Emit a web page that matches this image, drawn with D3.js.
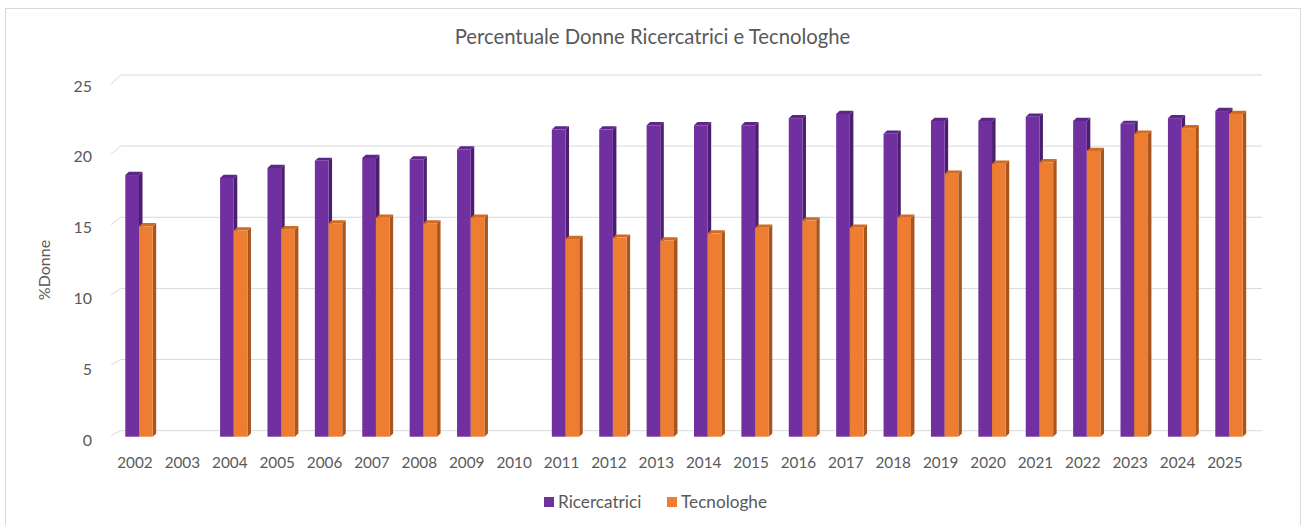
<!DOCTYPE html>
<html>
<head>
<meta charset="utf-8">
<script src="https://cdn.jsdelivr.net/npm/d3@7"></script>
<style>
  html, body { margin: 0; padding: 0; background: #ffffff; }
  svg { display: block; }
  text { font-family: Lato, "Open Sans", sans-serif; fill: #595959; }
</style>
</head>
<body>
<svg id="chart" width="1303" height="525"></svg>
<script>
const years = ["2002","2003","2004","2005","2006","2007","2008","2009","2010","2011","2012","2013","2014","2015","2016","2017","2018","2019","2020","2021","2022","2023","2024","2025"];
const ricercatrici = [18.4, null, 18.2, 18.9, 19.4, 19.6, 19.5, 20.2, null, 21.6, 21.6, 21.9, 21.9, 21.9, 22.4, 22.7, 21.3, 22.2, 22.2, 22.5, 22.2, 22.0, 22.4, 22.9];
const tecnologhe = [14.8, null, 14.5, 14.6, 15.0, 15.4, 15.0, 15.4, null, 13.9, 14.0, 13.8, 14.3, 14.7, 15.2, 14.7, 15.4, 18.5, 19.2, 19.3, 20.1, 21.3, 21.7, 22.7];
const yTicks = [0, 5, 10, 15, 20, 25];
const seriesNames = ["Ricercatrici", "Tecnologhe"];
const colors = { front: ["#7030A0", "#ED7D31"], side: ["#4B1E6E", "#A8561E"], top: ["#5C2788", "#D06A27"] };

const svg = d3.select("#chart");

// chart border
svg.append("rect").attr("x", 5.5).attr("y", 8.5).attr("width", 1295).attr("height", 530)
  .attr("fill", "#fff").attr("stroke", "#d9d9d9");

// scales
const x = d3.scaleBand().domain(years).range([111.3, 1248.7]).paddingInner(0).paddingOuter(0);
const yBack = d3.scaleLinear().domain([0, 25]).range([430.7, 75]);
const yFront = d3.scaleLinear().domain([0, 25]).range([435.5, 84]);
const yLabel = d3.scaleLinear().domain([0, 25]).range([440, 86]);
const yBar = d3.scaleLinear().domain([0, 25]).range([436.7, 81.2]);

const wallLeft = 120.5, wallRight = 1262, frontLeft = 111;

// gridlines on back wall + floor diagonals
const grid = svg.append("g");
yTicks.forEach(t => {
  grid.append("line").attr("x1", wallLeft).attr("x2", wallRight)
    .attr("y1", yBack(t)).attr("y2", yBack(t)).attr("stroke", "#d9d9d9").attr("stroke-width", 1);
  grid.append("line").attr("x1", frontLeft).attr("x2", wallLeft)
    .attr("y1", yFront(t)).attr("y2", yBack(t)).attr("stroke", "#d9d9d9").attr("stroke-width", 1);
});

// y tick labels
svg.append("g").selectAll("text").data(yTicks).join("text")
  .attr("x", 92).attr("y", d => yLabel(d)).attr("dy", "0.35em")
  .attr("text-anchor", "end").attr("font-size", 16).text(d => d);

// y axis title
svg.append("text").attr("transform", "translate(44,270) rotate(-90)")
  .attr("text-anchor", "middle").attr("dy", "0.35em").attr("font-size", 16).text("%Donne");

// x labels
svg.append("g").selectAll("text").data(years).join("text")
  .attr("x", d => x(d) + x.bandwidth() / 2).attr("y", 463).attr("dy", "0.35em")
  .attr("text-anchor", "middle").attr("font-size", 15.3).text(d => d);

// bars (3D)
const barW = 13.7, dx = 3.5, dy = -3.2, shift = 4;
const barsG = svg.append("g");
years.forEach((yr, i) => {
  const c = x(yr) + x.bandwidth() / 2 + shift;
  [ricercatrici[i], tecnologhe[i]].forEach((v, s) => {
    if (v == null) return;
    const x0 = s === 0 ? c - barW : c;
    const x1 = x0 + barW;
    const yt = yBar(v), yb = yBar(0);
    barsG.append("path")
      .attr("d", `M${x1},${yb} L${x1 + dx},${yb + dy} L${x1 + dx},${yt + dy} L${x1},${yt} Z`)
      .attr("fill", colors.side[s]);
    barsG.append("path")
      .attr("d", `M${x0},${yt} L${x0 + dx},${yt + dy} L${x1 + dx},${yt + dy} L${x1},${yt} Z`)
      .attr("fill", colors.top[s]);
    barsG.append("rect").attr("x", x0).attr("y", yt).attr("width", barW).attr("height", yb - yt)
      .attr("fill", colors.front[s]);
  });
});

// title
svg.append("text").attr("x", 652.5).attr("y", 37).attr("dy", "0.35em")
  .attr("text-anchor", "middle").attr("font-size", 20.3).text("Percentuale Donne Ricercatrici e Tecnologhe");

// legend
const legendItems = [
  { name: seriesNames[0], color: colors.front[0], x: 544 },
  { name: seriesNames[1], color: colors.front[1], x: 667 }
];
const lg = svg.append("g");
legendItems.forEach(it => {
  lg.append("rect").attr("x", it.x).attr("y", 497).attr("width", 10).attr("height", 10).attr("fill", it.color);
  lg.append("text").attr("x", it.x + 14).attr("y", 502).attr("dy", "0.35em").attr("font-size", 17.2).text(it.name);
});
</script>
</body>
</html>
